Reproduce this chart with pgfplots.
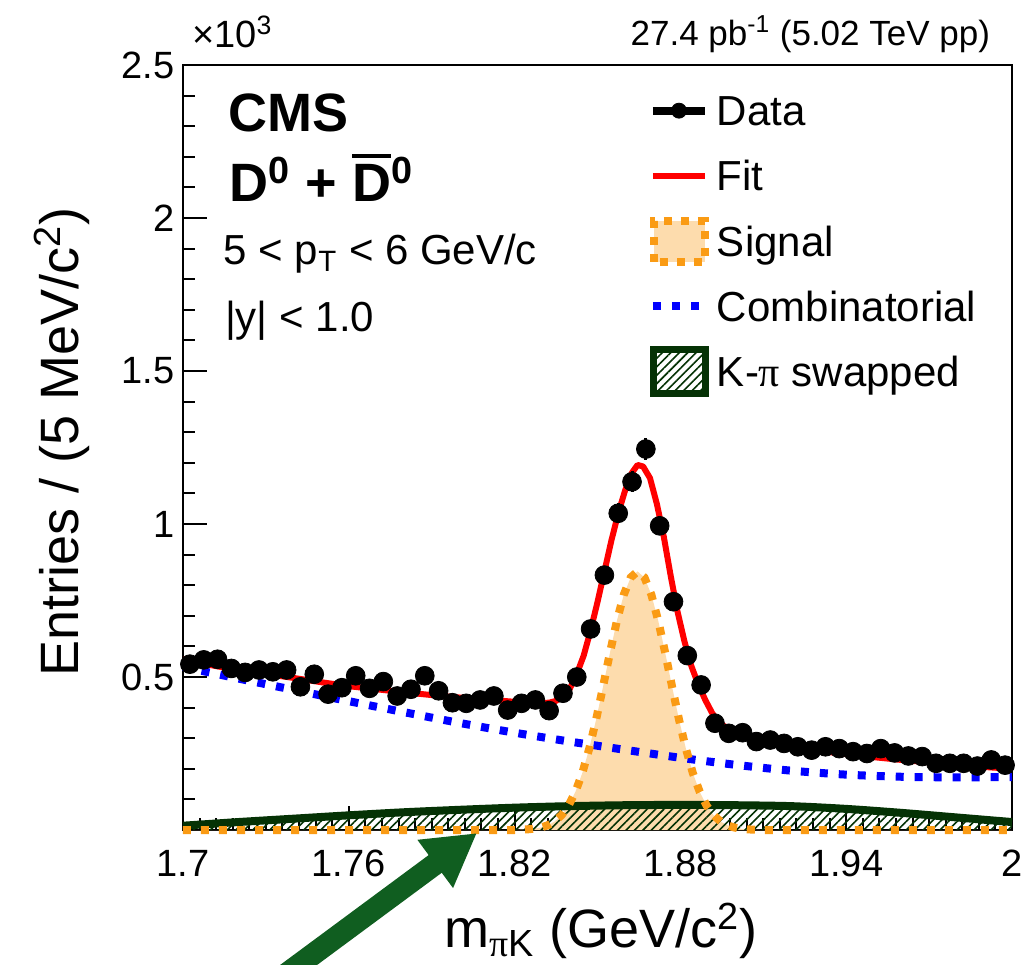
\documentclass[border=0pt]{standalone}
\usepackage{fontspec}
\setmainfont{Liberation Sans}
\newfontfamily\symfont{Liberation Serif}
\usepackage{pgfplots}
\pgfplotsset{compat=1.18}
\usepackage{pgfplotstable}
\usetikzlibrary{patterns.meta,arrows.meta}

\definecolor{sigorange}{RGB}{250,155,20}
\definecolor{swapgreen}{RGB}{5,50,5}
\definecolor{arrowgreen}{RGB}{16,94,32}

\newcommand\tickfont{\fontsize{19}{22}\selectfont}
\newcommand\titlefont{\fontsize{27}{32}\selectfont}
\newcommand\legfont{\fontsize{21}{25}\selectfont}
\newcommand\cmsfont{\fontsize{27}{32}\selectfont\bfseries}
\newcommand\kinfont{\fontsize{21}{25}\selectfont}
\newcommand\topfont{\fontsize{17.5}{21}\selectfont}
\newcommand\barD{\setbox0=\hbox{D}\rlap{\rule[\dimexpr\ht0+3.5pt\relax]{\wd0}{1.6pt}}\box0}

% data: bin centre, entries (x10^3), stat. error
\pgfplotstableread{
x y e
1.7025 0.542 0.0233
1.7075 0.556 0.0236
1.7125 0.558 0.0236
1.7175 0.528 0.0230
1.7225 0.515 0.0227
1.7275 0.523 0.0229
1.7325 0.517 0.0227
1.7375 0.523 0.0229
1.7425 0.468 0.0216
1.7475 0.509 0.0226
1.7525 0.444 0.0211
1.7575 0.465 0.0216
1.7625 0.504 0.0224
1.7675 0.463 0.0215
1.7725 0.485 0.0220
1.7775 0.438 0.0209
1.7825 0.460 0.0214
1.7875 0.504 0.0224
1.7925 0.455 0.0213
1.7975 0.416 0.0204
1.8025 0.414 0.0203
1.8075 0.425 0.0206
1.8125 0.438 0.0209
1.8175 0.392 0.0198
1.8225 0.414 0.0203
1.8275 0.425 0.0206
1.8325 0.390 0.0197
1.8375 0.447 0.0211
1.8425 0.500 0.0224
1.8475 0.657 0.0256
1.8525 0.833 0.0289
1.8575 1.035 0.0322
1.8625 1.138 0.0337
1.8675 1.245 0.0353
1.8725 0.994 0.0315
1.8775 0.746 0.0273
1.8825 0.570 0.0239
1.8875 0.474 0.0218
1.8925 0.349 0.0187
1.8975 0.316 0.0178
1.9025 0.318 0.0178
1.9075 0.289 0.0170
1.9125 0.294 0.0171
1.9175 0.283 0.0168
1.9225 0.272 0.0165
1.9275 0.261 0.0162
1.9325 0.272 0.0165
1.9375 0.266 0.0163
1.9425 0.256 0.0160
1.9475 0.250 0.0158
1.9525 0.266 0.0163
1.9575 0.252 0.0159
1.9625 0.242 0.0156
1.9675 0.240 0.0155
1.9725 0.218 0.0148
1.9775 0.218 0.0148
1.9825 0.218 0.0148
1.9875 0.209 0.0145
1.9925 0.229 0.0151
1.9975 0.212 0.0146
}\datatab

% total fit
\pgfplotstableread{
x y
1.700 0.558
1.710 0.539
1.720 0.522
1.730 0.510
1.740 0.497
1.750 0.483
1.760 0.470
1.770 0.460
1.780 0.450
1.790 0.441
1.800 0.433
1.810 0.426
1.820 0.419
1.8275 0.415
1.8325 0.416
1.835 0.422
1.8375 0.436
1.840 0.462
1.8425 0.510
1.845 0.570
1.8475 0.652
1.850 0.745
1.8525 0.845
1.855 0.945
1.8575 1.035
1.860 1.110
1.8625 1.168
1.8645 1.193
1.8665 1.188
1.869 1.150
1.8715 1.065
1.874 0.958
1.8765 0.830
1.879 0.712
1.8815 0.615
1.884 0.535
1.8865 0.475
1.889 0.425
1.8915 0.382
1.894 0.352
1.8965 0.335
1.900 0.318
1.905 0.301
1.910 0.289
1.920 0.272
1.930 0.259
1.940 0.248
1.950 0.238
1.960 0.229
1.970 0.221
1.980 0.213
1.990 0.206
2.000 0.200
}\fittab

% signal component
\pgfplotstableread{
x y
1.700 0
1.820 0
1.8245 0.0020
1.8270 0.0041
1.8295 0.0082
1.8320 0.0156
1.8345 0.0281
1.8370 0.0484
1.8395 0.0795
1.8420 0.1246
1.8445 0.1862
1.8470 0.2655
1.8495 0.3609
1.8520 0.4680
1.8545 0.5790
1.8570 0.6831
1.8595 0.7688
1.8620 0.8252
1.8645 0.8450
1.8670 0.8252
1.8695 0.7688
1.8720 0.6831
1.8745 0.5790
1.8770 0.4680
1.8795 0.3609
1.8820 0.2655
1.8845 0.1862
1.8870 0.1246
1.8895 0.0795
1.8920 0.0484
1.8945 0.0281
1.8970 0.0156
1.8995 0.0082
1.9020 0.0041
1.9045 0.0020
1.9090 0
2.000 0
}\sigtab

% combinatorial background
\pgfplotstableread{
x y
1.700 0.533
1.720 0.495
1.740 0.458
1.760 0.421
1.780 0.385
1.800 0.350
1.820 0.318
1.840 0.289
1.860 0.262
1.880 0.236
1.900 0.213
1.920 0.194
1.940 0.181
1.960 0.174
1.980 0.172
2.000 0.173
}\combtab

% K-pi swapped
\pgfplotstableread{
x y
1.700 0.014
1.720 0.026
1.740 0.037
1.760 0.048
1.780 0.058
1.800 0.066
1.820 0.073
1.840 0.078
1.860 0.081
1.880 0.082
1.900 0.081
1.920 0.078
1.940 0.069
1.960 0.056
1.980 0.041
2.000 0.026
}\swaptab

\begin{document}
\begin{tikzpicture}
\useasboundingbox (-91.5pt,-67pt) rectangle (421.5pt,415pt);
\begin{axis}[
    at={(0pt,0pt)}, anchor=south west,
    scale only axis,
    width=414.5pt, height=382.5pt,
    xmin=1.7, xmax=2.0, ymin=0, ymax=2.5,
    clip=false,
    axis line style={line width=1pt},
    tick align=inside, tick pos=left,
    tick style={line width=1pt, black},
    major tick length=12pt, minor tick length=6pt,
    xtick={1.7,1.76,1.82,1.88,1.94,2.0},
    xticklabels={1.7,1.76,1.82,1.88,1.94,2},
    ytick={0,0.5,1,1.5,2,2.5},
    yticklabels={,0.5,1,1.5,2,2.5},
    minor x tick num=9, minor y tick num=4,
    xticklabel style={font=\tickfont, inner sep=0pt, yshift=-10pt},
    yticklabel style={font=\tickfont, inner sep=0pt, xshift=-4pt},
    xlabel={m\textsubscript{{\symfont π}K} (GeV/c\textsuperscript{2})},
    ylabel={Entries / (5 MeV/c\textsuperscript{2})},
    xlabel style={font=\titlefont, at={(axis description cs:0.504,-0.1542)}, anchor=base},
    ylabel style={font=\titlefont, at={(axis description cs:-0.126,0.507)}, anchor=base},
    legend cell align=left,
    legend style={at={(axis description cs:0.5621,0.9824)}, anchor=north west,
        draw=none, fill=none, inner sep=0pt, outer sep=0pt,
        row sep=0pt, column sep=4pt,
        nodes={inner sep=0pt, anchor=base west, font=\legfont}},
]
% signal fill, swapped hatch
\addplot[draw=none, fill=sigorange!35, forget plot] table {\sigtab} \closedcycle;
\addplot[draw=none, pattern={Lines[angle=45,distance=3pt,line width=0.8pt]},
    pattern color=swapgreen, forget plot] table {\swaptab} \closedcycle;
% combinatorial
\addplot[blue, line width=4pt, dash pattern=on 4pt off 5.5pt, smooth, forget plot] table {\combtab};
% swapped line
\addplot[swapgreen, line width=4pt, smooth, forget plot] table {\swaptab};
% signal outline
\addplot[sigorange, line width=4pt, dash pattern=on 4pt off 5pt, forget plot] table {\sigtab};
% fit
\addplot[red, line width=3pt, line join=round, forget plot] table {\fittab};
% data
\addplot[black, only marks, mark=*, mark size=4.7pt, forget plot,
    error bars/.cd, y dir=both, y explicit,
    error bar style={line width=1.5pt, black}, error mark=none]
    table[x=x, y=y, y error=e] {\datatab};

\addlegendimage{legend image code/.code={
    \path[draw=none, fill=none] (0pt,-9pt) rectangle (29.5pt,23.6pt);
    \draw[black, line width=4pt] (1.5pt,7.5pt) -- (27.5pt,7.5pt);
    \fill[black] (14.5pt,7.5pt) circle (3.75pt);}}
\addlegendentry{Data}
\addlegendimage{legend image code/.code={
    \path[draw=none, fill=none] (0pt,-9pt) rectangle (29.5pt,23.6pt);
    \draw[red, line width=3pt] (1.5pt,7.5pt) -- (27.5pt,7.5pt);}}
\addlegendentry{Fit}
\addlegendimage{legend image code/.code={
    \path[draw=none, fill=none] (0pt,-9pt) rectangle (29.5pt,23.6pt);
    \draw[sigorange, line width=4pt, dash pattern=on 4pt off 4.5pt, fill=sigorange!35]
        (2pt,-2.75pt) rectangle (27.5pt,17.75pt);}}
\addlegendentry{Signal}
\addlegendimage{legend image code/.code={
    \path[draw=none, fill=none] (0pt,-9pt) rectangle (29.5pt,23.6pt);
    \draw[blue, line width=4pt, dash pattern=on 4pt off 5.5pt] (1.5pt,7.5pt) -- (27.5pt,7.5pt);}}
\addlegendentry{Combinatorial}
\addlegendimage{legend image code/.code={
    \path[draw=none, fill=none] (0pt,-9pt) rectangle (29.5pt,23.6pt);
    \draw[swapgreen, line width=3.5pt, pattern={Lines[angle=45,distance=3pt,line width=0.8pt]},
        pattern color=swapgreen] (1.75pt,-3.5pt) rectangle (27.75pt,18.5pt);}}
\addlegendentry{K-{\symfont π} swapped}

% labels
\node[anchor=base west, font=\cmsfont] at (axis description cs:0.0467,0.9128) {CMS};
\node[anchor=base west, font=\cmsfont] at (axis description cs:0.0479,0.8213)
    {D\textsuperscript{0} + \barD\textsuperscript{0}};
\node[anchor=base west, font=\kinfont] at (axis description cs:0.0407,0.7386)
    {5 < p\textsubscript{T} < 6 GeV/c};
\node[anchor=base west, font=\kinfont] at (axis description cs:0.0422,0.6514) {|y| < 1.0};
\node[anchor=base west, font=\fontsize{19}{22}\selectfont] at (axis description cs:0.0024,1.0235)
    {×10\textsuperscript{3}};
\node[anchor=base east, font=\topfont] at (axis description cs:0.982,1.0261)
    {27.4 pb\textsuperscript{-1} (5.02 TeV pp)};

% pointer to the swapped component
\draw[arrowgreen, line width=11pt, -{Triangle[width=28pt,length=26pt]}]
    (axis cs:1.7369,-0.474) -- (axis cs:1.8064,-0.0098);
\end{axis}
\end{tikzpicture}
\end{document}
